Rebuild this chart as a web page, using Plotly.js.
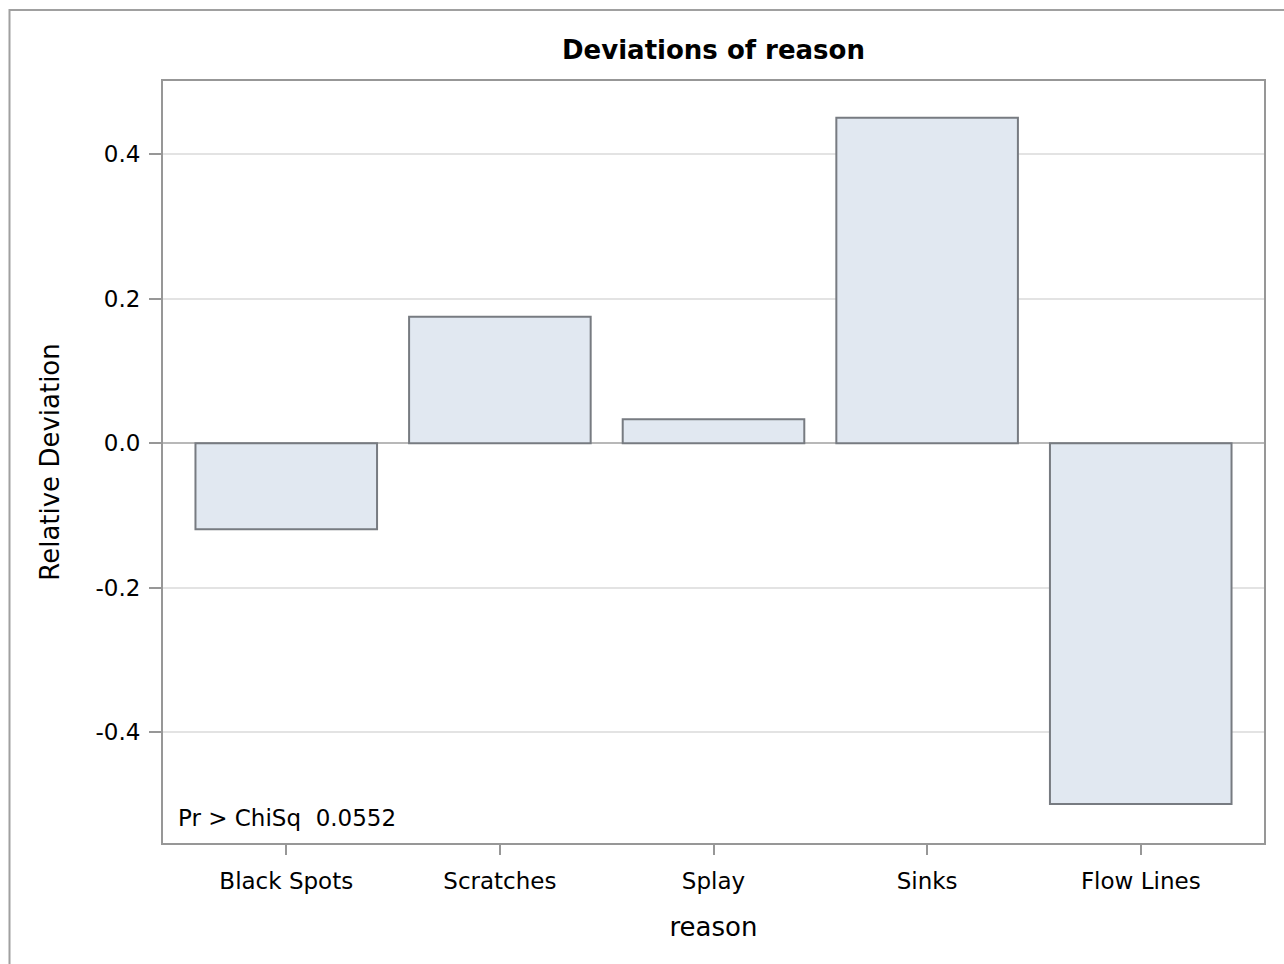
<!DOCTYPE html>
<html>
<head>
<meta charset="utf-8">
<script src="https://cdn.plot.ly/plotly-3.0.1.min.js"></script>
<style>
html,body{margin:0;padding:0;background:#fff;}
#chart{width:1284px;height:964px;}
</style>
</head>
<body>
<div id="chart"></div>
<script>
const categories = ["Black Spots", "Scratches", "Splay", "Sinks", "Flow Lines"];
const deviations = [-0.119, 0.175, 0.033, 0.450, -0.499];
const yTickValues = [-0.4, -0.2, 0.0, 0.2, 0.4];
const yTickLabels = ["-0.4", "-0.2", "0.0", "0.2", "0.4"];
const chiSqText = "Pr &gt; ChiSq&nbsp;&nbsp;0.0552";

const FONT = "DejaVu Sans, Verdana, sans-serif";

const trace = {
  type: "bar",
  x: categories,
  y: deviations,
  width: 0.85,
  marker: {
    color: "#e1e8f1",
    line: {color: "#777b81", width: 2}
  },
  hoverinfo: "none"
};

const layout = {
  width: 1284,
  height: 964,
  margin: {l: 163, r: 20, t: 81, b: 121},
  paper_bgcolor: "#ffffff",
  plot_bgcolor: "#ffffff",
  showlegend: false,
  font: {family: FONT, color: "#000"},
  title: {
    text: "<b>Deviations of reason</b>",
    font: {family: FONT, size: 26, color: "#000"},
    xref: "paper", x: 0.5, xanchor: "center",
    yref: "container", y: 1 - 50/964, yanchor: "middle"
  },
  xaxis: {
    type: "category",
    range: [-0.577, 4.577],
    showline: true, mirror: true, linecolor: "#979797", linewidth: 2,
    showgrid: false, zeroline: false,
    ticks: "outside", ticklen: 10, tickwidth: 2, tickcolor: "#979797",
    ticklabelstandoff: 6,
    tickfont: {family: FONT, size: 23, color: "#000"},
    title: {text: "reason", font: {family: FONT, size: 26, color: "#000"}, standoff: 25}
  },
  yaxis: {
    range: [-0.553, 0.501],
    tickvals: yTickValues,
    ticktext: yTickLabels,
    showline: true, mirror: true, linecolor: "#979797", linewidth: 2,
    showgrid: true, gridcolor: "#e3e3e3", gridwidth: 2,
    zeroline: true, zerolinecolor: "#b8b8b8", zerolinewidth: 2,
    ticks: "outside", ticklen: 12, tickwidth: 2, tickcolor: "#979797",
    ticklabelstandoff: 4,
    tickfont: {family: FONT, size: 23, color: "#000"},
    title: {text: "Relative Deviation", font: {family: FONT, size: 26, color: "#000"}, standoff: 28}
  },
  annotations: [{
    text: chiSqText,
    xref: "paper", yref: "paper",
    x: 13/1101, y: (843-818)/762,
    xanchor: "left", yanchor: "middle",
    showarrow: false,
    font: {family: FONT, size: 23, color: "#000"}
  }],
  shapes: [{
    type: "rect", xref: "paper", yref: "paper",
    x0: (9.5-163)/1101, x1: (1300-163)/1101,
    y0: (843-10)/762, y1: (843-990)/762,
    line: {color: "#a0a0a0", width: 2},
    fillcolor: "rgba(0,0,0,0)",
    layer: "below"
  }]
};

Plotly.newPlot("chart", [trace], layout, {displayModeBar: false, staticPlot: true});
</script>
</body>
</html>
